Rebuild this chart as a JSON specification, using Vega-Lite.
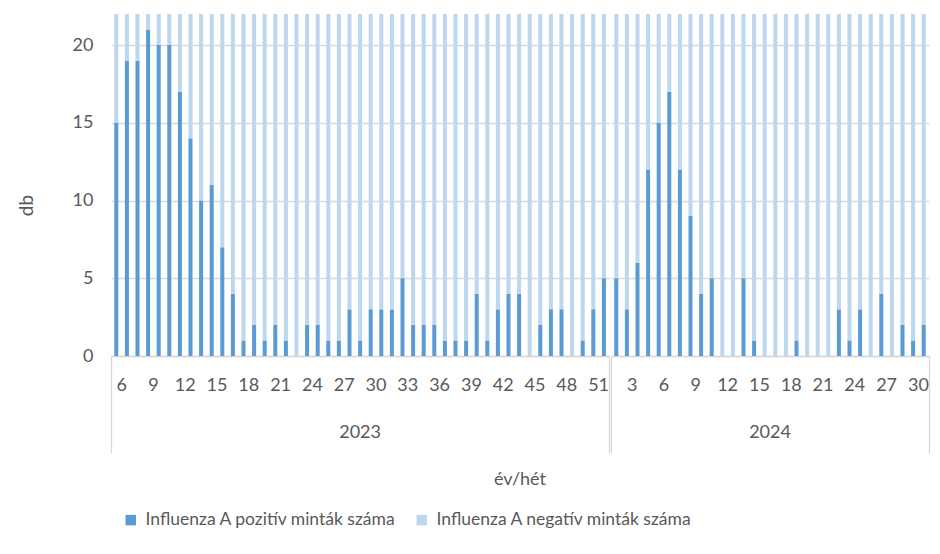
{
  "$schema": "https://vega.github.io/schema/vega-lite/v6.json",
  "background": "white",
  "padding": {"left": 17, "top": 14, "right": 8, "bottom": 5},
  "data": {"values": [
    {"ev": 2023, "het": 5, "pozitív": 15, "negatív": 28},
    {"ev": 2023, "het": 6, "pozitív": 19, "negatív": 30},
    {"ev": 2023, "het": 7, "pozitív": 19, "negatív": 33},
    {"ev": 2023, "het": 8, "pozitív": 21, "negatív": 35},
    {"ev": 2023, "het": 9, "pozitív": 20, "negatív": 36},
    {"ev": 2023, "het": 10, "pozitív": 20, "negatív": 34},
    {"ev": 2023, "het": 11, "pozitív": 17, "negatív": 37},
    {"ev": 2023, "het": 12, "pozitív": 14, "negatív": 38},
    {"ev": 2023, "het": 13, "pozitív": 10, "negatív": 36},
    {"ev": 2023, "het": 14, "pozitív": 11, "negatív": 33},
    {"ev": 2023, "het": 15, "pozitív": 7, "negatív": 35},
    {"ev": 2023, "het": 16, "pozitív": 4, "negatív": 37},
    {"ev": 2023, "het": 17, "pozitív": 1, "negatív": 34},
    {"ev": 2023, "het": 18, "pozitív": 2, "negatív": 33},
    {"ev": 2023, "het": 19, "pozitív": 1, "negatív": 31},
    {"ev": 2023, "het": 20, "pozitív": 2, "negatív": 30},
    {"ev": 2023, "het": 21, "pozitív": 1, "negatív": 32},
    {"ev": 2023, "het": 22, "pozitív": 0, "negatív": 29},
    {"ev": 2023, "het": 23, "pozitív": 2, "negatív": 30},
    {"ev": 2023, "het": 24, "pozitív": 2, "negatív": 28},
    {"ev": 2023, "het": 25, "pozitív": 1, "negatív": 31},
    {"ev": 2023, "het": 26, "pozitív": 1, "negatív": 33},
    {"ev": 2023, "het": 27, "pozitív": 3, "negatív": 30},
    {"ev": 2023, "het": 28, "pozitív": 1, "negatív": 29},
    {"ev": 2023, "het": 29, "pozitív": 3, "negatív": 32},
    {"ev": 2023, "het": 30, "pozitív": 3, "negatív": 34},
    {"ev": 2023, "het": 31, "pozitív": 3, "negatív": 31},
    {"ev": 2023, "het": 32, "pozitív": 5, "negatív": 33},
    {"ev": 2023, "het": 33, "pozitív": 2, "negatív": 30},
    {"ev": 2023, "het": 34, "pozitív": 2, "negatív": 35},
    {"ev": 2023, "het": 35, "pozitív": 2, "negatív": 32},
    {"ev": 2023, "het": 36, "pozitív": 1, "negatív": 36},
    {"ev": 2023, "het": 37, "pozitív": 1, "negatív": 38},
    {"ev": 2023, "het": 38, "pozitív": 1, "negatív": 35},
    {"ev": 2023, "het": 39, "pozitív": 4, "negatív": 39},
    {"ev": 2023, "het": 40, "pozitív": 1, "negatív": 41},
    {"ev": 2023, "het": 41, "pozitív": 3, "negatív": 37},
    {"ev": 2023, "het": 42, "pozitív": 4, "negatív": 40},
    {"ev": 2023, "het": 43, "pozitív": 4, "negatív": 42},
    {"ev": 2023, "het": 44, "pozitív": 0, "negatív": 44},
    {"ev": 2023, "het": 45, "pozitív": 2, "negatív": 39},
    {"ev": 2023, "het": 46, "pozitív": 3, "negatív": 41},
    {"ev": 2023, "het": 47, "pozitív": 3, "negatív": 43},
    {"ev": 2023, "het": 48, "pozitív": 0, "negatív": 45},
    {"ev": 2023, "het": 49, "pozitív": 1, "negatív": 40},
    {"ev": 2023, "het": 50, "pozitív": 3, "negatív": 42},
    {"ev": 2023, "het": 51, "pozitív": 5, "negatív": 46},
    {"ev": 2024, "het": 1, "pozitív": 5, "negatív": 44},
    {"ev": 2024, "het": 2, "pozitív": 3, "negatív": 47},
    {"ev": 2024, "het": 3, "pozitív": 6, "negatív": 45},
    {"ev": 2024, "het": 4, "pozitív": 12, "negatív": 43},
    {"ev": 2024, "het": 5, "pozitív": 15, "negatív": 40},
    {"ev": 2024, "het": 6, "pozitív": 17, "negatív": 38},
    {"ev": 2024, "het": 7, "pozitív": 12, "negatív": 41},
    {"ev": 2024, "het": 8, "pozitív": 9, "negatív": 39},
    {"ev": 2024, "het": 9, "pozitív": 4, "negatív": 42},
    {"ev": 2024, "het": 10, "pozitív": 5, "negatív": 37},
    {"ev": 2024, "het": 11, "pozitív": 0, "negatív": 36},
    {"ev": 2024, "het": 12, "pozitív": 0, "negatív": 39},
    {"ev": 2024, "het": 13, "pozitív": 5, "negatív": 35},
    {"ev": 2024, "het": 14, "pozitív": 1, "negatív": 38},
    {"ev": 2024, "het": 15, "pozitív": 0, "negatív": 34},
    {"ev": 2024, "het": 16, "pozitív": 0, "negatív": 36},
    {"ev": 2024, "het": 17, "pozitív": 0, "negatív": 33},
    {"ev": 2024, "het": 18, "pozitív": 1, "negatív": 35},
    {"ev": 2024, "het": 19, "pozitív": 0, "negatív": 32},
    {"ev": 2024, "het": 20, "pozitív": 0, "negatív": 34},
    {"ev": 2024, "het": 21, "pozitív": 0, "negatív": 31},
    {"ev": 2024, "het": 22, "pozitív": 3, "negatív": 33},
    {"ev": 2024, "het": 23, "pozitív": 1, "negatív": 30},
    {"ev": 2024, "het": 24, "pozitív": 3, "negatív": 32},
    {"ev": 2024, "het": 25, "pozitív": 0, "negatív": 29},
    {"ev": 2024, "het": 26, "pozitív": 4, "negatív": 31},
    {"ev": 2024, "het": 27, "pozitív": 0, "negatív": 30},
    {"ev": 2024, "het": 28, "pozitív": 2, "negatív": 28},
    {"ev": 2024, "het": 29, "pozitív": 1, "negatív": 29},
    {"ev": 2024, "het": 30, "pozitív": 2, "negatív": 27}
  ]},
  "transform": [{"fold": ["pozitív", "negatív"], "as": ["eredmény", "db"]}],
  "facet": {
    "column": {
      "field": "ev", "type": "ordinal", "title": "év/hét",
      "header": {
        "labelOrient": "bottom", "titleOrient": "bottom",
        "labelFont": "Lato", "labelFontSize": 18, "labelColor": "#595959",
        "labelPadding": -30,
        "titleFont": "Lato", "titleFontSize": 18, "titleColor": "#595959",
        "titleFontWeight": "normal", "titlePadding": 7
      }
    }
  },
  "spacing": 0,
  "resolve": {"scale": {"x": "independent"}},
  "spec": {
    "width": {"step": 10.6},
    "height": 342,
    "mark": {"type": "bar", "clip": true, "width": {"band": 0.38}},
    "encoding": {
      "x": {
        "field": "het", "type": "ordinal", "title": null,
        "scale": {"paddingInner": 0, "paddingOuter": 0},
        "axis": {
          "bandPosition": 1, "tickExtra": true,
          "labelExpr": "datum.value % 3 == 0 ? datum.label : ''",
          "labelOffset": -5.3, "labelAngle": 0, "labelFont": "Lato",
          "labelFontSize": 18, "labelColor": "#595959", "labelPadding": -77,
          "labelOverlap": false, "labelBound": false, "labelFlush": false,
          "tickSize": 97, "tickColor": "#d9d9d9", "tickWidth": 1.3,
          "tickOpacity": {"condition": {"test": "datum.index == 1 || datum.index < 0", "value": 1}, "value": 0},
          "domainColor": "#d9d9d9", "domainWidth": 1.3, "grid": false
        }
      },
      "y": {
        "field": "db", "type": "quantitative", "stack": "zero",
        "scale": {"domain": [0, 22], "nice": false},
        "axis": {
          "values": [0, 5, 10, 15, 20], "title": "db",
          "titleFont": "Lato", "titleFontSize": 19, "titleFontWeight": "normal",
          "titleColor": "#595959", "titlePadding": 36, "titleY": 191,
          "labelFont": "Lato", "labelFontSize": 18, "labelColor": "#595959",
          "labelPadding": 17, "ticks": false, "domain": false,
          "gridColor": "#d9d9d9", "gridWidth": 1.3
        }
      },
      "color": {
        "field": "eredmény", "type": "nominal",
        "sort": ["pozitív", "negatív"],
        "scale": {"domain": ["pozitív", "negatív"], "range": ["#5b9bd5", "#bdd7ee"]},
        "legend": {
          "title": null, "orient": "none", "legendX": 11, "legendY": 497,
          "direction": "horizontal",
          "labelExpr": "'Influenza A ' + datum.label + ' minták száma'",
          "symbolType": "square", "symbolSize": 110, "symbolStrokeWidth": 0,
          "labelFont": "Lato", "labelFontSize": 17.5, "labelColor": "#595959",
          "labelOffset": 6, "columnPadding": 16, "labelLimit": 400
        }
      }
    }
  },
  "config": {"view": {"stroke": null}, "font": "Lato"}
}
